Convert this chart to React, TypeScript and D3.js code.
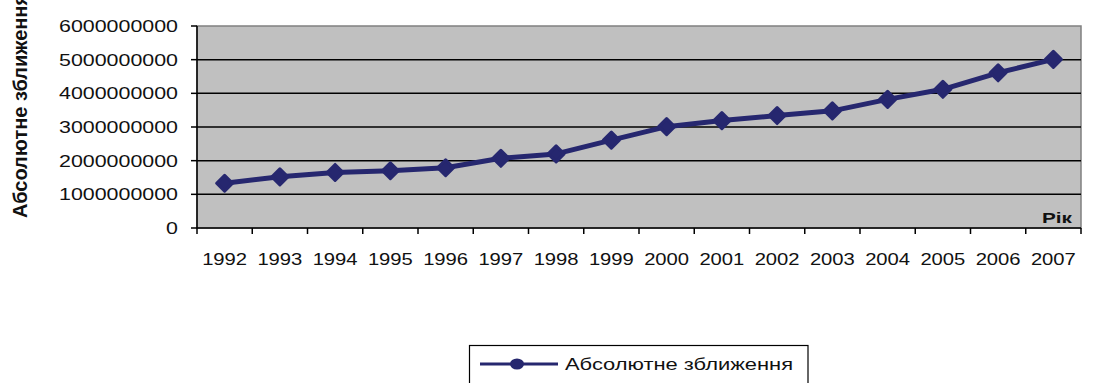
import React from 'react';
import * as d3 from 'd3';

const years = ['1992', '1993', '1994', '1995', '1996', '1997', '1998', '1999', '2000', '2001', '2002', '2003', '2004', '2005', '2006', '2007'];
const values = [1.33e9, 1.52e9, 1.65e9, 1.70e9, 1.79e9, 2.07e9, 2.20e9, 2.61e9, 3.01e9, 3.19e9, 3.34e9, 3.48e9, 3.82e9, 4.12e9, 4.61e9, 5.01e9];
const yTicks = [0, 1e9, 2e9, 3e9, 4e9, 5e9, 6e9];
const seriesName = 'Абсолютне зближення';
const yTitle = 'Абсолютне зближення';
const xTitle = 'Рік';

const W = 1102, H = 383;
const L = 197, R = 1081, T = 26, B = 228;
const NAVY = '#26276f';
const FONT = '"Liberation Sans", Arial, sans-serif';

export default function App() {
  const x = d3.scaleBand<string>().domain(years).range([L, R]);
  const y = d3.scaleLinear().domain([0, 6e9]).range([B, T]);
  const cx = (d: string) => (x(d) as number) + x.bandwidth() / 2;
  const line = d3.line<number>().x((_, i) => cx(years[i])).y(v => y(v));
  const diamond = (px: number, py: number, r: number) =>
    `M${px},${py - r}L${px + r},${py}L${px},${py + r}L${px - r},${py}Z`;
  const tickEdges = [...years.map(d => x(d) as number), R];

  return (
    <svg width={W} height={H} style={{ position: 'absolute', left: 0, top: 0, background: '#fff' }}>
      <rect x={L} y={T} width={R - L} height={B - T} fill="#c0c0c0" stroke="#808080" strokeWidth={1.5} />
      {yTicks.filter(t => t > 0 && t < 6e9).map(t => (
        <line key={t} x1={L} x2={R} y1={y(t)} y2={y(t)} stroke="#000" strokeWidth={1.5} />
      ))}
      <line x1={L} x2={L} y1={T} y2={B} stroke="#000" strokeWidth={1.5} />
      <line x1={L} x2={R} y1={B} y2={B} stroke="#000" strokeWidth={1.5} />
      {yTicks.map(t => (
        <g key={'yt' + t}>
          <line x1={L - 6} x2={L} y1={y(t)} y2={y(t)} stroke="#000" strokeWidth={1.5} />
          <text x={178} y={y(t) + 6} textAnchor="end" fontFamily={FONT} fontSize={16.5} fill="#111"
            textLength={String(t).length * 11.9} lengthAdjust="spacingAndGlyphs">{String(t)}</text>
        </g>
      ))}
      {tickEdges.map((e, i) => (
        <line key={'xt' + i} x1={e} x2={e} y1={B} y2={B + 6} stroke="#000" strokeWidth={1.5} />
      ))}
      {years.map(d => (
        <text key={'xl' + d} x={cx(d)} y={265} textAnchor="middle" fontFamily={FONT} fontSize={17} fill="#111"
          textLength={45} lengthAdjust="spacingAndGlyphs">{d}</text>
      ))}
      <text x={1072} y={223} textAnchor="end" fontFamily={FONT} fontSize={15} fontWeight="bold" fill="#111"
        textLength={30} lengthAdjust="spacingAndGlyphs">{xTitle}</text>
      <g transform="translate(27,218) rotate(-90)">
        <text x={0} y={0} fontFamily={FONT} fontSize={20} fontWeight="bold" fill="#111">{yTitle}</text>
      </g>
      <path d={line(values) || ''} fill="none" stroke={NAVY} strokeWidth={5} strokeLinejoin="round" />
      {values.map((v, i) => (
        <path key={'m' + i} d={diamond(cx(years[i]), y(v), 8)} fill={NAVY} stroke={NAVY} strokeWidth={3} strokeLinejoin="round" />
      ))}
      <rect x={469.5} y={345.5} width={338.5} height={50} fill="#fff" stroke="#000" strokeWidth={1.2} />
      <line x1={480} x2={558} y1={364} y2={364} stroke={NAVY} strokeWidth={3} />
      <ellipse cx={517} cy={364} rx={7} ry={5.5} fill={NAVY} />
      <text x={565} y={369.5} fontFamily={FONT} fontSize={16} fill="#111"
        textLength={228} lengthAdjust="spacingAndGlyphs">{seriesName}</text>
    </svg>
  );
}
